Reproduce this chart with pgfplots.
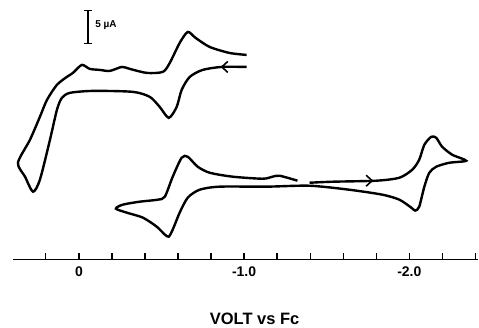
\documentclass[border=0pt]{standalone}
\usepackage{fontspec}
\setmainfont{Liberation Sans}
\usepackage{pgfplots}
\pgfplotsset{compat=1.18}
\usetikzlibrary{arrows.meta}
\begin{document}
\begin{tikzpicture}
\begin{axis}[
  scale only axis, width=466pt, height=260pt,
  xmin=-2.417, xmax=0.399, ymin=0, ymax=38.24,
  x dir=reverse,
  axis x line*=bottom, axis y line=none,
  x axis line style={line width=1.6pt},
  xtick={0.4,0.2,0,-0.2,-0.4,-0.6,-0.8,-1.0,-1.2,-1.4,-1.6,-1.8,-2.0,-2.2,-2.4},
  xticklabels={,,0,,,,,-1.0,,,,,-2.0,,},
  tick align=inside, major tick length=7pt,
  xtick style={line width=1.3pt, black},
  xticklabel style={font=\fontsize{14}{14}\selectfont\bfseries, yshift=-4pt},
  xlabel={VOLT vs Fc},
  xlabel style={font=\fontsize{16.5}{16.5}\selectfont\bfseries, inner ysep=2pt, yshift=-31pt, xshift=9pt},
  clip=false,
]
% upper voltammogram
\addplot [black, line width=2.4pt, smooth, tension=0.45] coordinates {
(-1.015,28.38) (-0.864,28.38) (-0.749,27.94) (-0.671,26.91) (-0.622,25.0)
(-0.592,22.5) (-0.544,20.88) (-0.489,22.5) (-0.429,23.97) (-0.326,24.71)
(-0.085,24.85) (0.054,24.56) (0.103,23.82) (0.133,22.06) (0.175,17.65)
(0.236,11.76) (0.278,10.0) (0.326,12.21) (0.369,14.26) (0.296,17.65)
(0.236,21.03) (0.193,23.53) (0.133,25.74) (0.073,26.91) (0.036,27.5)
(-0.018,28.68) (-0.066,28.09) (-0.127,27.94) (-0.187,27.79) (-0.260,28.38)
(-0.308,28.09) (-0.411,27.5) (-0.508,27.65) (-0.550,28.97) (-0.610,31.91)
(-0.659,33.53) (-0.707,32.65) (-0.792,31.32) (-0.912,30.44) (-1.015,30.15)
};
% lower voltammogram
\addplot [black, line width=2.4pt, smooth, tension=0.45] coordinates {
(-1.396,11.32) (-1.535,11.47) (-1.801,11.62) (-1.940,12.06) (-2.018,13.24)
(-2.060,14.71) (-2.091,16.91) (-2.133,18.09) (-2.163,17.94) (-2.199,16.62)
(-2.260,15.44) (-2.344,14.56) (-2.242,14.26) (-2.163,13.68) (-2.121,12.79)
(-2.091,10.74) (-2.060,7.79) (-2.036,7.21) (-2.012,7.65) (-1.940,8.82)
(-1.837,9.56) (-1.637,10.29) (-1.396,10.88) (-1.136,10.74) (-0.852,10.74)
(-0.731,10.29) (-0.659,9.12) (-0.610,6.91) (-0.568,4.41) (-0.544,3.38)
(-0.520,3.68) (-0.471,4.85) (-0.387,6.18) (-0.290,6.91) (-0.224,7.5)
(-0.266,8.09) (-0.369,8.53) (-0.477,8.82) (-0.520,9.26) (-0.568,12.21)
(-0.622,15.0) (-0.659,15.15) (-0.719,13.68) (-0.792,12.79) (-0.931,12.21)
(-1.112,11.91) (-1.172,12.21) (-1.215,12.35) (-1.323,11.62)
};
% direction arrows
\addplot [black, line width=1.6pt, -{Straight Barb[length=6pt,width=11pt]}] coordinates {(-0.912,28.38) (-0.858,28.38)};
\addplot [black, line width=1.6pt, -{Straight Barb[length=6pt,width=11pt]}] coordinates {(-1.698,11.62) (-1.782,11.62)};
% scale bar 5 uA
\addplot [black, line width=1.4pt, {Bar[width=8pt]}-{Bar[width=8pt]}] coordinates {(-0.054,31.76) (-0.054,36.76)};
\node [anchor=west, inner sep=1pt, font=\fontsize{10}{10}\selectfont\bfseries] at (axis cs:-0.092,34.5) {5 µA};
\end{axis}
\path ([xshift=-13pt]current axis.north west) -- ([xshift=-13pt]current axis.south west);
\end{tikzpicture}
\end{document}
